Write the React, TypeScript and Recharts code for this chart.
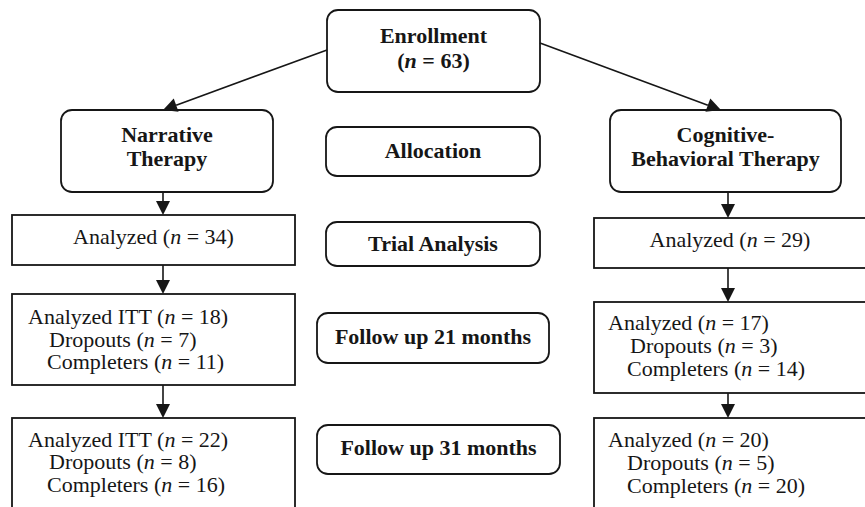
import React from "react";
import { ComposedChart, XAxis, YAxis, ReferenceArea, ReferenceLine, Label } from "recharts";

// flow values
const enrollment = 63;
const armNames = ["Narrative Therapy", "Cognitive-Behavioral Therapy"];
const phaseNames = ["Allocation", "Trial Analysis", "Follow up 21 months", "Follow up 31 months"];
const narrativeAnalyzed = [34, 18, 22];
const narrativeDropouts = [7, 8];
const narrativeCompleters = [11, 16];
const cbtAnalyzed = [29, 17, 20];
const cbtDropouts = [3, 5];
const cbtCompleters = [14, 20];

const W = 865;
const H = 507;
const INK = "#161616";
const FONT = '"Liberation Serif", "Times New Roman", serif';

type Part = { t: string; i?: boolean };
type Line = { parts: Part[]; dy: number; dx?: number };

const nParts = (pre: string, n: number): Part[] => [
  { t: pre + "(" },
  { t: "n", i: true },
  { t: ` = ${n})` },
];
const plain = (t: string): Part[] => [{ t }];

function boxText(lines: Line[], bold: boolean, anchor: "middle" | "start") {
  return (props: any) => {
    const vb = props.viewBox;
    if (!vb) return null;
    return (
      <g>
        {lines.map((ln, k) => {
          const x = anchor === "middle" ? vb.x + vb.width / 2 + (ln.dx || 0) : vb.x + (ln.dx || 0);
          return (
            <text key={k} x={x} y={vb.y + ln.dy} textAnchor={anchor} fontFamily={FONT} fontSize={22}
              fontWeight={bold ? 700 : 400} fill={INK}>
              {ln.parts.map((p, j) => (
                <tspan key={j} fontStyle={p.i ? "italic" : "normal"}>{p.t}</tspan>
              ))}
            </text>
          );
        })}
      </g>
    );
  };
}

const RoundBox = (p: any) => (
  <rect x={p.x} y={p.y} width={p.width} height={p.height} rx={11} ry={11} fill="#fff" stroke={INK} strokeWidth={1.8} />
);
const SquareBox = (p: any) => (
  <rect x={p.x} y={p.y} width={p.width} height={p.height} fill="#fff" stroke={INK} strokeWidth={1.8} />
);

const Arrow = (p: any) => {
  const { x1, y1, x2, y2 } = p;
  const dx = x2 - x1, dy = y2 - y1, len = Math.hypot(dx, dy) || 1;
  const ux = dx / len, uy = dy / len;
  const bx = x2 - ux * 14, by = y2 - uy * 14;
  const px = -uy * 7, py = ux * 7;
  return (
    <g>
      <line x1={x1} y1={y1} x2={bx} y2={by} stroke={INK} strokeWidth={1.6} />
      <polygon points={`${x2},${y2} ${bx + px},${by + py} ${bx - px},${by - py}`} fill={INK} />
    </g>
  );
};

type Box = { x1: number; x2: number; y1: number; y2: number; round: boolean; bold: boolean; anchor: "middle" | "start"; lines: Line[] };

const [ntWord, ntRest] = [armNames[0].split(" ")[0], armNames[0].split(" ")[1]];
const cbtParts = armNames[1].split(" ");

const boxes: Box[] = [
  { x1: 327, x2: 540, y1: 10, y2: 92, round: true, bold: true, anchor: "middle",
    lines: [{ parts: plain("Enrollment"), dy: 33 }, { parts: nParts("", enrollment), dy: 58 }] },
  { x1: 61, x2: 273, y1: 110, y2: 192, round: true, bold: true, anchor: "middle",
    lines: [{ parts: plain(ntWord), dy: 32 }, { parts: plain(ntRest), dy: 56 }] },
  { x1: 610, x2: 841, y1: 110, y2: 192, round: true, bold: true, anchor: "middle",
    lines: [{ parts: plain(cbtParts[0].split("-")[0] + "-"), dy: 32 }, { parts: plain(cbtParts[0].split("-")[1] + " " + cbtParts[1]), dy: 56 }] },
  { x1: 326, x2: 540, y1: 127, y2: 176, round: true, bold: true, anchor: "middle",
    lines: [{ parts: plain(phaseNames[0]), dy: 31 }] },
  { x1: 326, x2: 540, y1: 222, y2: 266, round: true, bold: true, anchor: "middle",
    lines: [{ parts: plain(phaseNames[1]), dy: 29 }] },
  { x1: 317, x2: 549, y1: 313, y2: 363, round: true, bold: true, anchor: "middle",
    lines: [{ parts: plain(phaseNames[2]), dy: 31 }] },
  { x1: 317, x2: 560, y1: 425, y2: 474, round: true, bold: true, anchor: "middle",
    lines: [{ parts: plain(phaseNames[3]), dy: 30 }] },
  { x1: 12, x2: 295, y1: 215, y2: 265, round: false, bold: false, anchor: "middle",
    lines: [{ parts: nParts("Analyzed ", narrativeAnalyzed[0]), dy: 29 }] },
  { x1: 12, x2: 295, y1: 294, y2: 385, round: false, bold: false, anchor: "start",
    lines: [
      { parts: nParts("Analyzed ITT ", narrativeAnalyzed[1]), dy: 30, dx: 16 },
      { parts: nParts("Dropouts ", narrativeDropouts[0]), dy: 53, dx: 37 },
      { parts: nParts("Completers ", narrativeCompleters[0]), dy: 75, dx: 35 },
    ] },
  { x1: 12, x2: 295, y1: 418, y2: 530, round: false, bold: false, anchor: "start",
    lines: [
      { parts: nParts("Analyzed ITT ", narrativeAnalyzed[2]), dy: 29, dx: 16 },
      { parts: nParts("Dropouts ", narrativeDropouts[1]), dy: 51, dx: 37 },
      { parts: nParts("Completers ", narrativeCompleters[1]), dy: 74, dx: 35 },
    ] },
  { x1: 594, x2: 866, y1: 218, y2: 268, round: false, bold: false, anchor: "middle",
    lines: [{ parts: nParts("Analyzed ", cbtAnalyzed[0]), dy: 29 }] },
  { x1: 594, x2: 866, y1: 302, y2: 393, round: false, bold: false, anchor: "start",
    lines: [
      { parts: nParts("Analyzed ", cbtAnalyzed[1]), dy: 28, dx: 14 },
      { parts: nParts("Dropouts ", cbtDropouts[0]), dy: 51, dx: 36 },
      { parts: nParts("Completers ", cbtCompleters[0]), dy: 74, dx: 33 },
    ] },
  { x1: 594, x2: 866, y1: 418, y2: 530, round: false, bold: false, anchor: "start",
    lines: [
      { parts: nParts("Analyzed ", cbtAnalyzed[2]), dy: 29, dx: 14 },
      { parts: nParts("Dropouts ", cbtDropouts[1]), dy: 52, dx: 33 },
      { parts: nParts("Completers ", cbtCompleters[1]), dy: 75, dx: 33 },
    ] },
];

const arrows = [
  [327, 50, 163, 110],
  [540, 43, 721, 110],
  [163, 192, 163, 215],
  [163, 265, 163, 294],
  [163, 385, 163, 418],
  [728, 192, 728, 218],
  [728, 268, 728, 302],
  [728, 393, 728, 418],
];

export default function App() {
  return (
    <div>
      <style>{"body{margin:0;background:#fff}"}</style>
      <ComposedChart width={W} height={H} margin={{ top: 0, right: 0, bottom: 0, left: 0 }}>
        <XAxis type="number" dataKey="x" domain={[0, W]} hide allowDataOverflow />
        <YAxis type="number" domain={[0, H]} reversed hide allowDataOverflow />
        {arrows.map(([a, b, c, d], k) => (
          <ReferenceLine key={"a" + k} segment={[{ x: a, y: b }, { x: c, y: d }]} shape={Arrow} ifOverflow="visible" />
        ))}
        {boxes.map((bx, k) => (
          <ReferenceArea key={"b" + k} x1={bx.x1} x2={bx.x2} y1={bx.y1} y2={bx.y2} ifOverflow="hidden"
            shape={bx.round ? RoundBox : SquareBox}>
            <Label content={boxText(bx.lines, bx.bold, bx.anchor)} />
          </ReferenceArea>
        ))}
      </ComposedChart>
    </div>
  );
}
